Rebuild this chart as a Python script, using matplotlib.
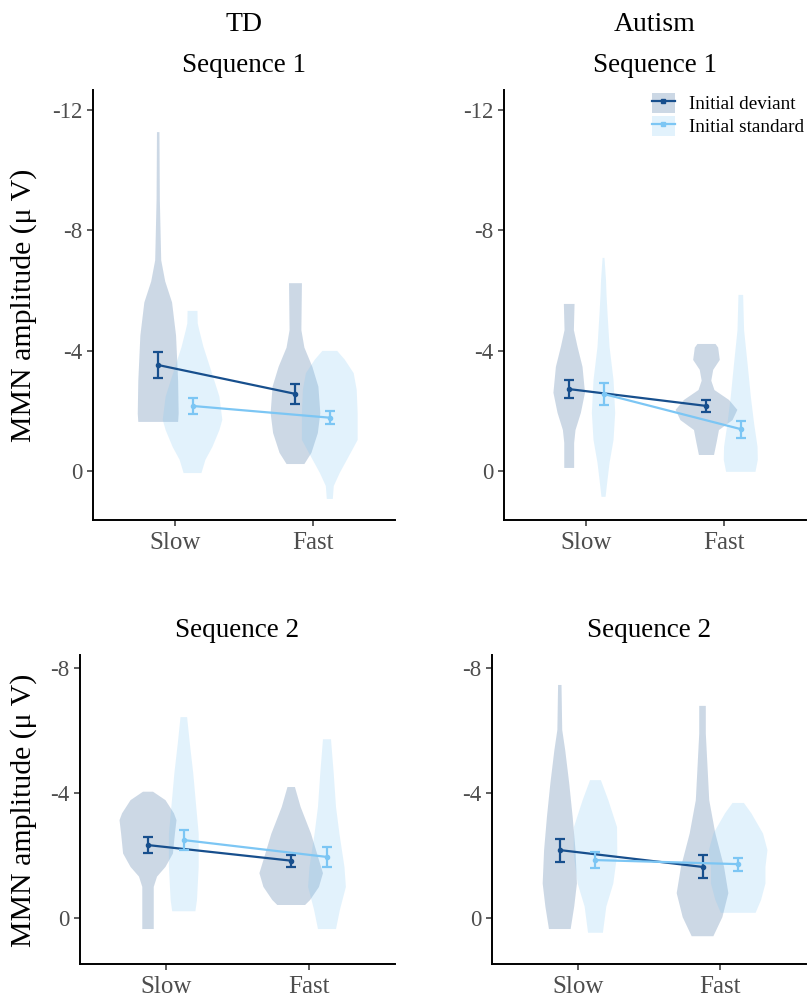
import numpy as np
import matplotlib
matplotlib.use("Agg")
import matplotlib.pyplot as plt
from matplotlib.patches import Patch
from matplotlib.lines import Line2D
from matplotlib.legend_handler import HandlerTuple

plt.rcParams["font.family"] = ["Liberation Serif", "DejaVu Serif"]
plt.rcParams["axes.unicode_minus"] = False

conditions = ["Slow", "Fast"]
trial_types = ["Initial deviant", "Initial standard"]
groups = ["TD", "Autism"]

# ---- mean MMN amplitude (uV) and standard error, order: Slow, Fast ----
td1_dev_mean = [-3.52, -2.56]
td1_dev_se = [0.43, 0.33]
td1_std_mean = [-2.16, -1.77]
td1_std_se = [0.28, 0.22]

au1_dev_mean = [-2.72, -2.16]
au1_dev_se = [0.30, 0.20]
au1_std_mean = [-2.56, -1.39]
au1_std_se = [0.36, 0.28]

td2_dev_mean = [-2.34, -1.84]
td2_dev_se = [0.25, 0.19]
td2_std_mean = [-2.50, -1.96]
td2_std_se = [0.33, 0.31]

au2_dev_mean = [-2.18, -1.64]
au2_dev_se = [0.37, 0.37]
au2_std_mean = [-1.86, -1.73]
au2_std_se = [0.27, 0.21]

# ---- violin density profiles: amplitude levels and half-widths ----
# TD, sequence 1
td1_slow_dev_y = [-11.26, -9.0, -7.0, -6.3, -5.6, -4.5, -3.0, -1.9, -1.63]
td1_slow_dev_w = [0.009, 0.012, 0.022, 0.051, 0.101, 0.130, 0.145, 0.149, 0.145]
td1_slow_std_y = [-5.32, -4.9, -4.68, -4.12, -3.0, -2.47, -1.7, -1.36, -0.8, -0.37, 0.07]
td1_slow_std_w = [0.036, 0.038, 0.049, 0.080, 0.159, 0.196, 0.217, 0.196, 0.145, 0.094, 0.065]
td1_fast_dev_y = [-6.24, -4.68, -4.1, -3.46, -2.8, -1.92, -1.26, -0.6, -0.23]
td1_fast_dev_w = [0.047, 0.043, 0.065, 0.123, 0.167, 0.181, 0.163, 0.116, 0.065]
td1_fast_std_y = [-3.99, -3.7, -3.25, -2.7, -1.92, -1.03, -0.6, 0.07, 0.5, 0.93]
td1_fast_std_w = [0.054, 0.109, 0.174, 0.196, 0.203, 0.203, 0.152, 0.072, 0.029, 0.022]

# Autism, sequence 1
au1_slow_dev_y = [-5.55, -4.68, -4.12, -3.46, -2.6, -1.93, -1.36, -0.93, -0.1]
au1_slow_dev_w = [0.039, 0.034, 0.061, 0.097, 0.115, 0.085, 0.046, 0.036, 0.036]
au1_slow_std_y = [-7.08, -6.35, -5.85, -5.25, -4.12, -3.02, -1.93, -1.03, -0.27, 0.3, 0.86]
au1_slow_std_w = [0.007, 0.018, 0.022, 0.029, 0.044, 0.073, 0.085, 0.073, 0.044, 0.029, 0.015]
au1_fast_dev_y = [-4.22, -4.1, -3.69, -3.36, -3.0, -2.69, -2.36, -2.03, -1.69, -1.36, -0.93, -0.53]
au1_fast_dev_w = [0.066, 0.085, 0.097, 0.049, 0.035, 0.058, 0.164, 0.225, 0.190, 0.091, 0.073, 0.055]
au1_fast_std_y = [-5.85, -4.68, -3.58, -2.47, -1.58, -0.8, -0.37, 0.03]
au1_fast_std_w = [0.017, 0.024, 0.049, 0.073, 0.097, 0.122, 0.124, 0.107]

# TD, sequence 2
td2_slow_dev_y = [-4.05, -3.78, -3.36, -3.14, -2.71, -2.07, -1.64, -1.33, -1.0, 0.35]
td2_slow_dev_w = [0.035, 0.122, 0.181, 0.199, 0.188, 0.174, 0.122, 0.063, 0.040, 0.040]
td2_slow_std_y = [-6.44, -5.6, -4.64, -3.56, -2.7, -1.64, -0.58, -0.22]
td2_slow_std_w = [0.023, 0.042, 0.066, 0.087, 0.104, 0.104, 0.092, 0.081]
td2_fast_dev_y = [-4.2, -3.56, -2.7, -1.86, -1.44, -1.0, -0.58, -0.42]
td2_fast_dev_w = [0.026, 0.066, 0.139, 0.194, 0.222, 0.194, 0.132, 0.097]
td2_fast_std_y = [-5.73, -4.64, -3.56, -2.7, -1.64, -1.0, -0.26, 0.35]
td2_fast_std_w = [0.028, 0.047, 0.063, 0.087, 0.122, 0.132, 0.090, 0.063]

# Autism, sequence 2
au2_slow_dev_y = [-7.47, -6.03, -5.38, -4.32, -3.25, -2.18, -1.11, -0.37, 0.35]
au2_slow_dev_w = [0.012, 0.017, 0.038, 0.066, 0.090, 0.110, 0.120, 0.101, 0.076]
au2_slow_std_y = [-4.42, -3.78, -2.92, -2.07, -1.11, -0.37, 0.47]
au2_slow_std_w = [0.038, 0.090, 0.151, 0.153, 0.125, 0.076, 0.052]
au2_fast_dev_y = [-6.8, -5.92, -4.85, -3.78, -2.71, -1.64, -0.8, -0.03, 0.58]
au2_fast_dev_w = [0.023, 0.023, 0.035, 0.047, 0.090, 0.151, 0.181, 0.139, 0.076]
au2_fast_std_y = [-3.69, -3.36, -2.71, -2.18, -1.64, -1.11, -0.58, -0.17]
au2_fast_std_w = [0.040, 0.092, 0.174, 0.205, 0.191, 0.191, 0.160, 0.122]

seq1_ticks = [-12, -8, -4, 0]
seq2_ticks = [-8, -4, 0]

# ---- styling ----
DEV_COLOR = "#174F8D"
STD_COLOR = "#7CC6F4"
FILL_ALPHA = 0.22
DODGE = 0.125
TICK_LABEL_COLOR = "#4D4D4D"

W, H = 812, 999
fig = plt.figure(figsize=(W / 100, H / 100), dpi=100)


def px_axes(left, top, right, bottom):
    return fig.add_axes([left / W, 1 - bottom / H, (right - left) / W, (bottom - top) / H])


def draw_violin(ax, center, ys, ws, color):
    ys = np.asarray(ys, dtype=float)
    ws = np.asarray(ws, dtype=float)
    ax.fill_betweenx(ys, center - ws, center + ws, facecolor=color,
                     alpha=FILL_ALPHA, edgecolor="none", linewidth=0, zorder=1)


def draw_panel(ax, dev_violins, std_violins, dev_mean, dev_se, std_mean, std_se,
               ylim, yticks, title):
    x = np.arange(1, len(conditions) + 1)
    for i, (ys, ws) in enumerate(dev_violins):
        draw_violin(ax, x[i] - DODGE, ys, ws, DEV_COLOR)
    for i, (ys, ws) in enumerate(std_violins):
        draw_violin(ax, x[i] + DODGE, ys, ws, STD_COLOR)

    for offs, mean, se, col, z in [(-DODGE, dev_mean, dev_se, DEV_COLOR, 3),
                                   (DODGE, std_mean, std_se, STD_COLOR, 5)]:
        ax.plot(x + offs, mean, color=col, lw=1.6, zorder=z, solid_capstyle="butt")
        ax.errorbar(x + offs, mean, yerr=se, fmt="o", ms=3, color=col, ecolor=col,
                    elinewidth=1.6, capsize=3.6, capthick=1.6, zorder=z + 1)

    ax.set_xlim(0.4, 2.6)
    ax.set_ylim(*ylim)
    ax.set_xticks(x)
    ax.set_xticklabels(conditions)
    ax.set_yticks(yticks)
    ax.set_yticklabels([str(t) for t in yticks])
    for s in ["top", "right"]:
        ax.spines[s].set_visible(False)
    for s in ["left", "bottom"]:
        ax.spines[s].set_linewidth(1.4)
        ax.spines[s].set_color("black")
    ax.tick_params(axis="both", direction="out", length=4.5, width=1.1,
                   color="#333333", labelcolor=TICK_LABEL_COLOR)
    ax.tick_params(axis="y", labelsize=16.5, pad=3)
    ax.tick_params(axis="x", labelsize=18, pad=4)
    ax.set_title(title, fontsize=19.5, pad=13)


ax_td1 = px_axes(93, 90, 395, 520)
ax_au1 = px_axes(504, 90, 806, 520)
ax_td2 = px_axes(80, 655, 395, 964)
ax_au2 = px_axes(492, 655, 806, 964)

seq1_lim = (1.63, -12.66)
seq2_lim = (1.47, -8.43)

draw_panel(ax_td1,
           [(td1_slow_dev_y, td1_slow_dev_w), (td1_fast_dev_y, td1_fast_dev_w)],
           [(td1_slow_std_y, td1_slow_std_w), (td1_fast_std_y, td1_fast_std_w)],
           td1_dev_mean, td1_dev_se, td1_std_mean, td1_std_se,
           seq1_lim, seq1_ticks, "Sequence 1")
draw_panel(ax_au1,
           [(au1_slow_dev_y, au1_slow_dev_w), (au1_fast_dev_y, au1_fast_dev_w)],
           [(au1_slow_std_y, au1_slow_std_w), (au1_fast_std_y, au1_fast_std_w)],
           au1_dev_mean, au1_dev_se, au1_std_mean, au1_std_se,
           seq1_lim, seq1_ticks, "Sequence 1")
draw_panel(ax_td2,
           [(td2_slow_dev_y, td2_slow_dev_w), (td2_fast_dev_y, td2_fast_dev_w)],
           [(td2_slow_std_y, td2_slow_std_w), (td2_fast_std_y, td2_fast_std_w)],
           td2_dev_mean, td2_dev_se, td2_std_mean, td2_std_se,
           seq2_lim, seq2_ticks, "Sequence 2")
draw_panel(ax_au2,
           [(au2_slow_dev_y, au2_slow_dev_w), (au2_fast_dev_y, au2_fast_dev_w)],
           [(au2_slow_std_y, au2_slow_std_w), (au2_fast_std_y, au2_fast_std_w)],
           au2_dev_mean, au2_dev_se, au2_std_mean, au2_std_se,
           seq2_lim, seq2_ticks, "Sequence 2")

# group headers
fig.text(244 / W, 1 - 31 / H, groups[0], ha="center", va="baseline", fontsize=20)
fig.text(655 / W, 1 - 31 / H, groups[1], ha="center", va="baseline", fontsize=20)

# y-axis labels
ylab = "MMN amplitude (\u03bc V)"
fig.text(24 / W, 1 - 305 / H, ylab, rotation=90, ha="center", va="center", fontsize=21.5)
fig.text(24 / W, 1 - 810 / H, ylab, rotation=90, ha="center", va="center", fontsize=21.5)

# legend: violin fill with mean line and point
handles = []
for col in [DEV_COLOR, STD_COLOR]:
    patch = Patch(facecolor=col, alpha=FILL_ALPHA, edgecolor="none")
    line = Line2D([], [], color=col, lw=1.6, marker="s", ms=3)
    handles.append((patch, line))
fig.legend(handles, trial_types, loc="upper left",
           bbox_to_anchor=(652 / W, 1 - 93 / H), frameon=False, fontsize=13.8,
           handler_map={tuple: HandlerTuple(ndivide=1)},
           handlelength=1.2, handleheight=1.2, handletextpad=0.75,
           labelspacing=0.15, borderpad=0, borderaxespad=0)

fig.savefig("out.png", dpi=100)
